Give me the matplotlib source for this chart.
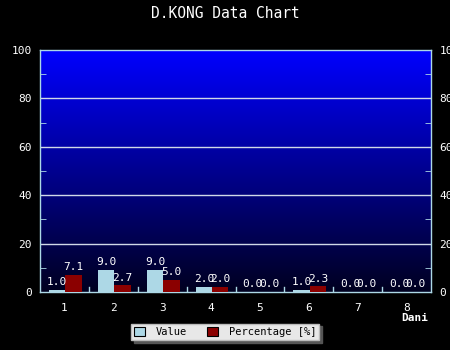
import matplotlib
matplotlib.use("Agg")
import matplotlib.pyplot as plt
import numpy as np
from matplotlib.colors import LinearSegmentedColormap

# data
days = ["1", "2", "3", "4", "5", "6", "7", "8"]
value = [1.0, 9.0, 9.0, 2.0, 0.0, 1.0, 0.0, 0.0]
percentage = [7.1, 2.7, 5.0, 2.0, 0.0, 2.3, 0.0, 0.0]

W, H = 450, 350
plt.rcParams["font.family"] = ["DejaVu Sans Mono"]
fs = 8

fig = plt.figure(figsize=(W / 100, H / 100), dpi=100, facecolor="black")
ax = fig.add_axes([40 / W, (H - 292) / H, 391 / W, 242 / H])
ax.set_facecolor("black")

# vertical blue gradient background
grad = np.linspace(1, 0, 256).reshape(-1, 1)
cmap = LinearSegmentedColormap.from_list("bg", ["#000020", "#0000ff"])
ax.imshow(grad, cmap=cmap, aspect="auto", extent=(0, 1, 0, 1),
          transform=ax.transAxes, zorder=0, vmin=0, vmax=1)

n = len(days)
x = np.arange(n)
bw = 0.335
ax.bar(x - bw / 2 + 0.02, value, width=bw, color="#add8e6", zorder=3, label="Value")
ax.bar(x + bw / 2 + 0.02, percentage, width=bw, color="#8b0000", zorder=3,
       label="Percentage [%]")

for i in range(n):
    ax.text(x[i] - bw / 2 + 0.02, value[i] + 1.2, f"{value[i]:.1f}", color="white",
            ha="center", va="bottom", fontsize=fs, zorder=4)
    ax.text(x[i] + bw / 2 + 0.02, percentage[i] + 1.2, f"{percentage[i]:.1f}",
            color="white", ha="center", va="bottom", fontsize=fs, zorder=4)

ax.set_xlim(-0.5, n - 0.5)
ax.set_ylim(0, 100)

# grid lines
for g in [20, 40, 60, 80]:
    ax.axhline(g, color="#d0d8e8", lw=1, zorder=1)

edge = "#add8e6"
for s in ax.spines.values():
    s.set_color(edge)
    s.set_linewidth(1)

ax.set_xticks(x)
ax.set_xticklabels(days)
ax.tick_params(axis="x", length=0, colors="white", labelsize=fs, pad=8)
# small category-boundary ticks along the bottom
for b in np.arange(0.5, n - 0.5, 1):
    ax.plot([b, b], [0, 2.2], color=edge, lw=1, zorder=2)

ax.set_yticks([0, 20, 40, 60, 80, 100])
ax.set_yticks([10, 30, 50, 70, 90], minor=True)
ax.tick_params(axis="y", which="both", direction="in", colors=edge,
               labelcolor="white", labelsize=fs, left=True, right=True,
               labelleft=True, labelright=True, pad=6)
ax.tick_params(axis="y", which="major", length=0)
ax.tick_params(axis="y", which="minor", length=4)

fig.text(225 / W, 1 - 14 / H, "D.KONG Data Chart", color="white", fontsize=10.5,
         ha="center", va="center")
fig.text(428 / W, 1 - 318 / H, "Dani", color="white", fontsize=fs,
         fontweight="bold", ha="right", va="center")

leg = fig.legend(loc="center", bbox_to_anchor=(225 / W, 1 - 332 / H), ncol=2,
                 fontsize=7.5, frameon=True, fancybox=False,
                 shadow={"color": "#555555", "alpha": 1},
                 facecolor="#e8e8e8", edgecolor="#bbbbbb", framealpha=1,
                 handlelength=1.05, handleheight=1.05, columnspacing=2.0,
                 handletextpad=1.0, borderpad=0.3, borderaxespad=0)
for p in leg.get_patches():
    p.set_edgecolor("black")
    p.set_linewidth(0.8)

fig.savefig("out.png", dpi=100, facecolor="black")
